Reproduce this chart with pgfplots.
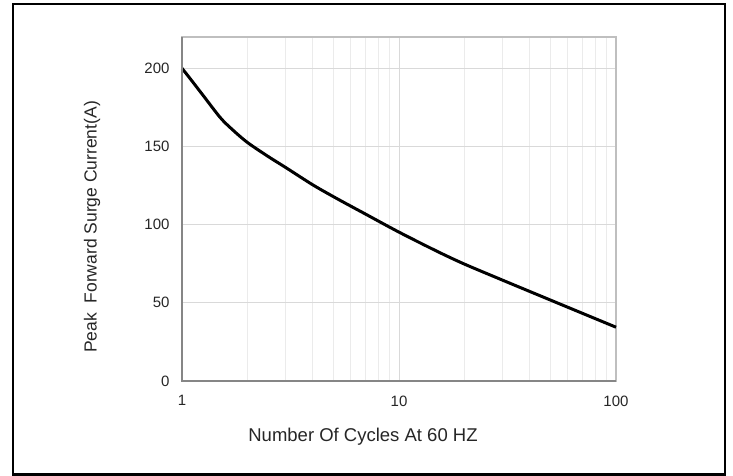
\documentclass[border=0pt]{standalone}
\usepackage{pgfplots}
\pgfplotsset{compat=1.18}
\usepackage{fontspec}
\setmainfont{Liberation Sans}
\definecolor{axdark}{HTML}{868686}
\definecolor{axlight}{HTML}{BFBFBF}
\definecolor{gridmaj}{HTML}{D9D9D9}
\definecolor{gridmin}{HTML}{EBEBEB}
\begin{document}
\begin{tikzpicture}[x=1pt,y=1pt]
\useasboundingbox (0,0) rectangle (733,476);
\draw[black, line width=2.2pt] (13,1.5) rectangle (725,472);
\begin{axis}[
  at={(182pt,95pt)}, anchor=south west,
  scale only axis, width=434pt, height=344pt,
  xmode=log, xmin=1, xmax=100, ymin=0, ymax=220,
  xtick={1,10,100}, xticklabels={1,10,100},
  ytick={0,50,100,150,200},
  major tick length=0pt, minor tick length=0pt,
  grid=both,
  major grid style={gridmaj, line width=0.9pt},
  minor grid style={gridmin, line width=0.8pt},
  axis line style={axlight, line width=1.2pt},
  tick label style={font=\fontsize{15}{17}\selectfont, text=black!85},
  /pgf/number format/assume math mode=true,
  xticklabel style={yshift=-11pt},
  yticklabel style={xshift=-9pt},
  clip=false,
]
\addplot[black, line width=3pt, smooth, tension=0.5] coordinates {
(1,200) (1.1,192.7) (1.25,182.7) (1.5,168.5) (1.7,161) (2,152.6) (2.5,143.5)
(3,136.6) (4,125.5) (5,117.8) (6,111.8) (7,106.8) (10,95.2)
(15,82.9) (20,74.8) (30,64.5) (50,51.7) (70,43.3) (100,34.4)
};
\draw[axdark, line width=1.8pt] (rel axis cs:0,1) -- (rel axis cs:0,0) -- (rel axis cs:1,0);
\end{axis}
\node[font=\fontsize{18.5}{21}\selectfont, text=black!85] at (363,39) {Number Of Cycles At 60 HZ};
\node[font=\fontsize{17.5}{20}\selectfont, text=black!85, rotate=90] at (92,249) {Peak\ \ Forward Surge Current(A)};
\end{tikzpicture}
\end{document}
